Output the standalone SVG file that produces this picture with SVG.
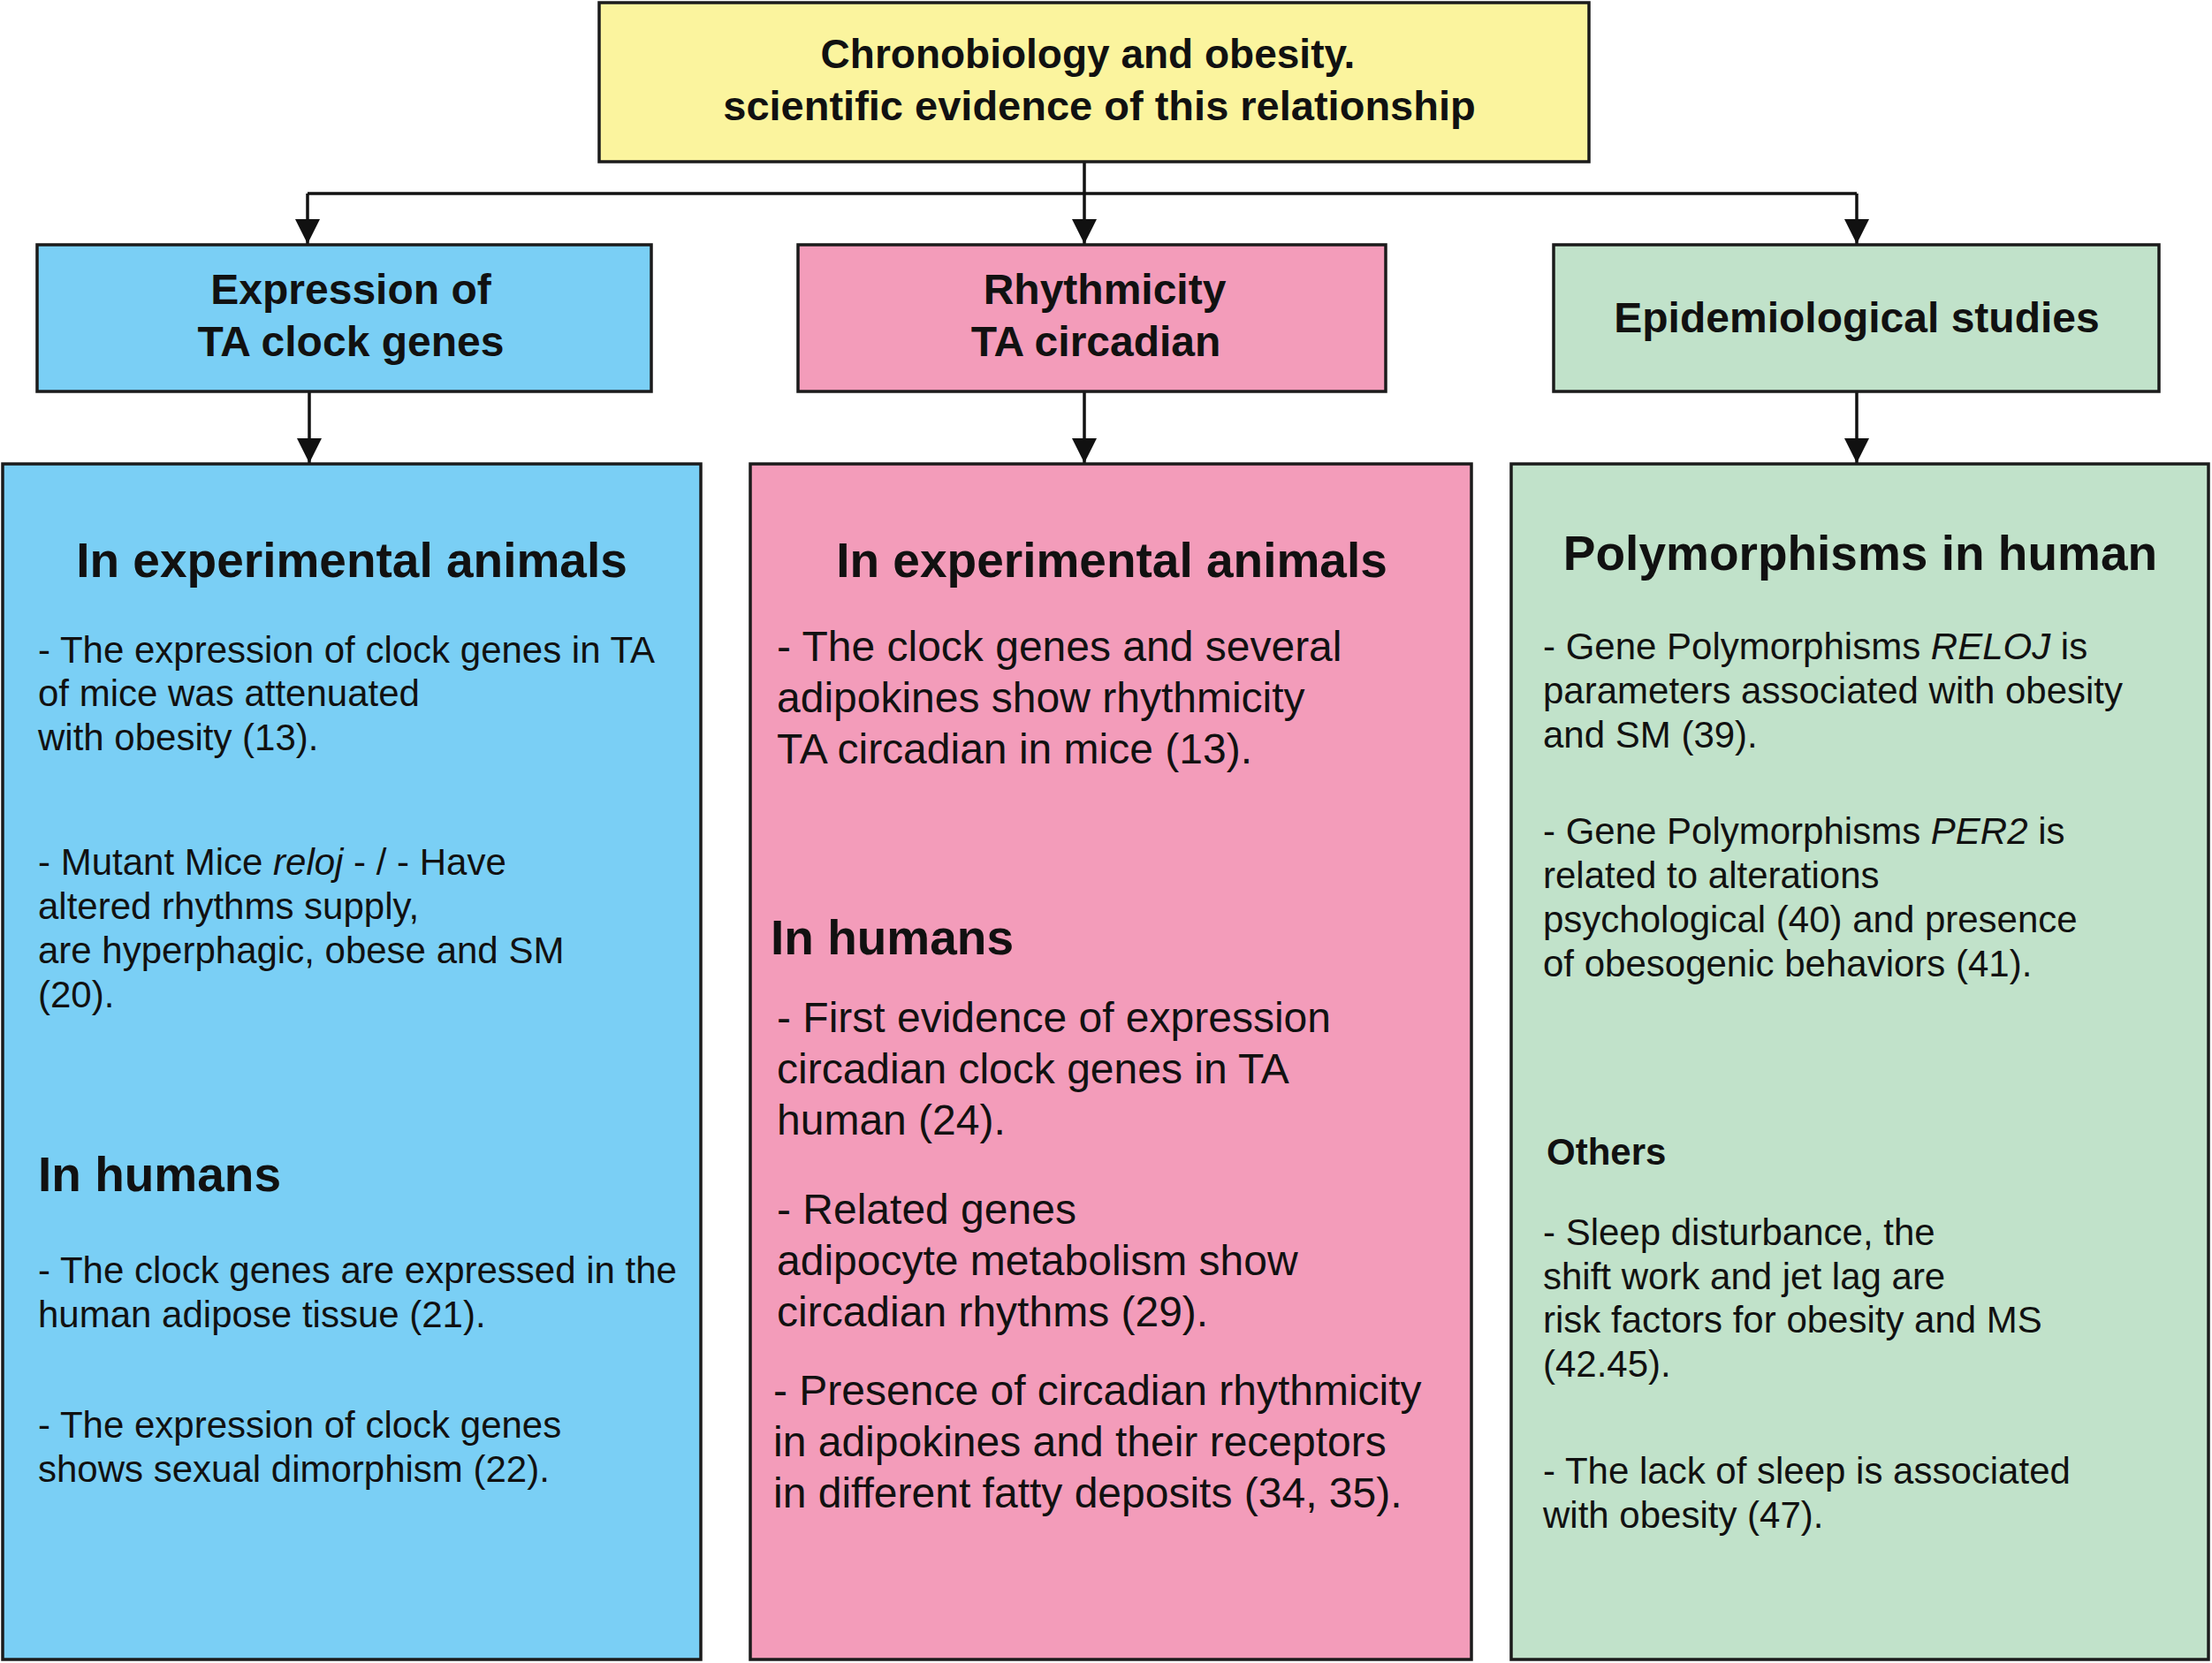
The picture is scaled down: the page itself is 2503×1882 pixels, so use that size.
<svg xmlns="http://www.w3.org/2000/svg" width="2503" height="1882" viewBox="0 0 2503 1882">
<defs>
<style>
.box{stroke:#1b1b1b;stroke-width:3.5}
.yel{fill:#FBF49E}
.blu{fill:#7ACFF5}
.pnk{fill:#F39CBA}
.grn{fill:#C1E2CA}
.hd{font-family:"Liberation Sans",Arial,Helvetica,sans-serif;font-weight:bold;fill:#111;font-size:48px}
.sh{font-family:"Liberation Sans",Arial,Helvetica,sans-serif;font-weight:bold;fill:#111;font-size:55px}
.tx{font-family:"Liberation Sans",Arial,Helvetica,sans-serif;fill:#111;font-size:42px}
.tp{font-family:"Liberation Sans",Arial,Helvetica,sans-serif;fill:#111;font-size:48px}
.c{text-anchor:middle}
.conn{stroke:#111;stroke-width:3.5;fill:none}
</style>
<marker id="arr" markerUnits="userSpaceOnUse" markerWidth="28" markerHeight="28" viewBox="0 0 28 28" refX="28" refY="14" orient="auto">
<path d="M0,0 L28,14 L0,28 z" fill="#111"/>
</marker>
</defs>
<rect width="2503" height="1882" fill="#fff"/>

<g id="connectors">
<path class="conn" d="M1227,184 V276" marker-end="url(#arr)"/>
<path class="conn" d="M348,219 H2101"/>
<path class="conn" d="M348,219 V276" marker-end="url(#arr)"/>
<path class="conn" d="M2101,219 V276" marker-end="url(#arr)"/>
<path class="conn" d="M350,443 V524" marker-end="url(#arr)"/>
<path class="conn" d="M1227,443 V524" marker-end="url(#arr)"/>
<path class="conn" d="M2101,443 V524" marker-end="url(#arr)"/>
</g>

<g id="title">
<rect class="box yel" x="678" y="3" width="1120" height="180"/>
<text class="hd c" x="1231" y="77" style="font-size:46px">Chronobiology and obesity.</text>
<text class="hd c" x="1244" y="136" style="font-size:47px">scientific evidence of this relationship</text>
</g>

<g id="expression">
<rect class="box blu" x="42" y="277" width="695" height="166"/>
<text class="hd c" x="397" y="344">Expression of</text>
<text class="hd c" x="397" y="403">TA clock genes</text>
</g>

<g id="rhythmicity">
<rect class="box pnk" x="903" y="277" width="665" height="166"/>
<text class="hd c" x="1250" y="344">Rhythmicity</text>
<text class="hd c" x="1240" y="403">TA circadian</text>
</g>

<g id="epidemiological">
<rect class="box grn" x="1758" y="277" width="685" height="166"/>
<text class="hd c" x="2101" y="376">Epidemiological studies</text>
</g>

<g id="expression-detail">
<rect class="box blu" x="3" y="525" width="790" height="1353"/>
<text class="sh c" x="398" y="653">In experimental animals</text>
<text class="tx" x="43" y="750">- The expression of clock genes in TA</text>
<text class="tx" x="43" y="799">of mice was attenuated</text>
<text class="tx" x="43" y="849">with obesity (13).</text>
<text class="tx" x="43" y="990">- Mutant Mice <tspan font-style="italic">reloj</tspan> - / - Have</text>
<text class="tx" x="43" y="1040">altered rhythms supply,</text>
<text class="tx" x="43" y="1090">are hyperphagic, obese and SM</text>
<text class="tx" x="43" y="1140">(20).</text>
<text class="sh" x="43" y="1348">In humans</text>
<text class="tx" x="43" y="1452">- The clock genes are expressed in the</text>
<text class="tx" x="43" y="1502">human adipose tissue (21).</text>
<text class="tx" x="43" y="1627">- The expression of clock genes</text>
<text class="tx" x="43" y="1677">shows sexual dimorphism (22).</text>
</g>

<g id="rhythmicity-detail">
<rect class="box pnk" x="849" y="525" width="816" height="1353"/>
<text class="sh c" x="1258" y="653">In experimental animals</text>
<text class="tp" x="879" y="748">- The clock genes and several</text>
<text class="tp" x="879" y="806">adipokines show rhythmicity</text>
<text class="tp" x="879" y="864">TA circadian in mice (13).</text>
<text class="sh" x="872" y="1080">In humans</text>
<text class="tp" x="879" y="1168">- First evidence of expression</text>
<text class="tp" x="879" y="1226">circadian clock genes in TA</text>
<text class="tp" x="879" y="1284">human (24).</text>
<text class="tp" x="879" y="1385">- Related genes</text>
<text class="tp" x="879" y="1443">adipocyte metabolism show</text>
<text class="tp" x="879" y="1501">circadian rhythms (29).</text>
<text class="tp" x="875" y="1590">- Presence of circadian rhythmicity</text>
<text class="tp" x="875" y="1648">in adipokines and their receptors</text>
<text class="tp" x="875" y="1706">in different fatty deposits (34, 35).</text>
</g>

<g id="epidemiological-detail">
<rect class="box grn" x="1710" y="525" width="789" height="1353"/>
<text class="sh c" x="2105" y="645">Polymorphisms in human</text>
<text class="tx" x="1746" y="746">- Gene Polymorphisms <tspan font-style="italic">RELOJ</tspan> is</text>
<text class="tx" x="1746" y="796">parameters associated with obesity</text>
<text class="tx" x="1746" y="846">and SM (39).</text>
<text class="tx" x="1746" y="955">- Gene Polymorphisms <tspan font-style="italic">PER2</tspan> is</text>
<text class="tx" x="1746" y="1005">related to alterations</text>
<text class="tx" x="1746" y="1055">psychological (40) and presence</text>
<text class="tx" x="1746" y="1105">of obesogenic behaviors (41).</text>
<text class="tx" x="1750" y="1318" style="font-weight:bold">Others</text>
<text class="tx" x="1746" y="1409">- Sleep disturbance, the</text>
<text class="tx" x="1746" y="1459">shift work and jet lag are</text>
<text class="tx" x="1746" y="1508">risk factors for obesity and MS</text>
<text class="tx" x="1746" y="1558">(42.45).</text>
<text class="tx" x="1746" y="1679">- The lack of sleep is associated</text>
<text class="tx" x="1746" y="1729">with obesity (47).</text>
</g>
</svg>
